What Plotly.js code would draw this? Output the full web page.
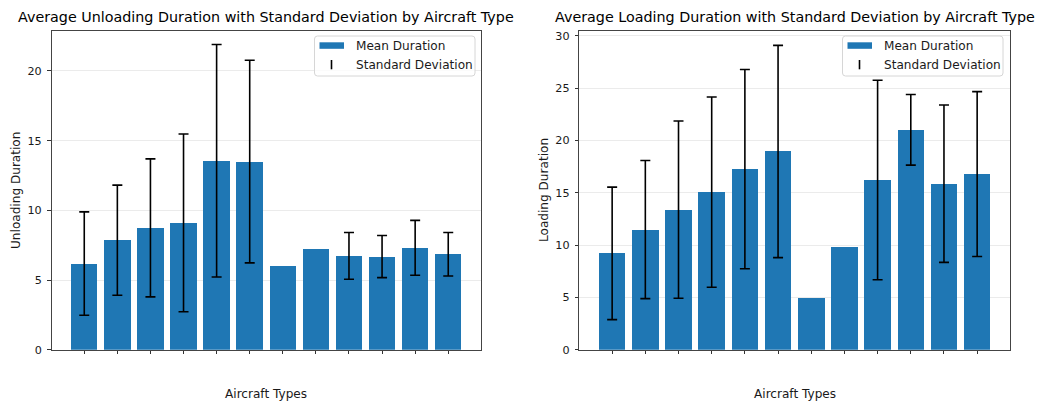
<!DOCTYPE html>
<html>
<head>
<meta charset="utf-8">
<script src="https://cdn.plot.ly/plotly-3.0.1.min.js"></script>
<style>
  html, body { margin: 0; padding: 0; background: #fff; }
  #chart { width: 1037px; height: 401px; }
</style>
</head>
<body>
<div id="chart"></div>
<script>
// Aircraft type positions (labels are blank on the axis)
const typeIndex = [0, 1, 2, 3, 4, 5, 6, 7, 8, 9, 10, 11];
const typeLabels = ['', '', '', '', '', '', '', '', '', '', '', ''];

// Unloading duration: mean and standard deviation per aircraft type
const unloadMean = [6.18, 7.86, 8.74, 9.10, 13.56, 13.50, 5.99, 7.21, 6.73, 6.68, 7.31, 6.85];
const unloadStd  = [3.71, 3.95, 4.95, 6.38, 8.34, 7.27, null, null, 1.68, 1.51, 1.97, 1.56];

// Loading duration: mean and standard deviation per aircraft type
const loadMean = [9.20, 11.48, 13.38, 15.06, 17.26, 18.94, 4.96, 9.82, 16.21, 21.01, 15.86, 16.78];
const loadStd  = [6.33, 6.60, 8.47, 9.09, 9.52, 10.14, null, null, 9.53, 3.37, 7.52, 7.88];

// Legend entries
const legendNames = ['Mean Duration', 'Standard Deviation'];

const BLUE = '#1f77b4';
const FONT = 'DejaVu Sans, sans-serif';
const TXT = '#1a1a1a';

const W = 1037, H = 401;
const px = v => v / W;
const py = v => 1 - v / H;

function barTrace(means, xa, ya) {
  return {
    type: 'bar', x: typeIndex, y: means, width: 0.8,
    name: legendNames[0], xaxis: xa, yaxis: ya, showlegend: false,
    marker: { color: BLUE, line: { width: 0 } }
  };
}

function errTrace(means, stds, xa, ya) {
  // points without a deviation get no error bar
  const yv = means.map((m, i) => (stds[i] == null ? null : m));
  const ev = stds.map(s => (s == null ? 0 : s));
  return {
    type: 'scatter', mode: 'markers', x: typeIndex, y: yv,
    name: legendNames[1], xaxis: xa, yaxis: ya, showlegend: false,
    marker: { size: 1, color: 'rgba(0,0,0,0)' },
    error_y: { type: 'data', array: ev, visible: true, color: '#000', thickness: 1.6, width: 5 },
    cliponaxis: false
  };
}

const data = [
  barTrace(unloadMean, 'x', 'y'),
  errTrace(unloadMean, unloadStd, 'x', 'y'),
  barTrace(loadMean, 'x2', 'y2'),
  errTrace(loadMean, loadStd, 'x2', 'y2')
];

const tickFont = { family: FONT, size: 11.2, color: TXT };

function xAxis(domain, anchor) {
  return {
    domain: domain, anchor: anchor, range: [-0.99, 11.99],
    tickmode: 'array', tickvals: typeIndex, ticktext: typeLabels,
    ticks: 'outside', ticklen: 3.5, tickwidth: 1, tickcolor: '#333',
    showline: true, mirror: true, linecolor: '#444', linewidth: 1,
    showgrid: false, zeroline: false, fixedrange: true
  };
}
function yAxis(domain, anchor, top) {
  return {
    domain: domain, anchor: anchor, range: [0, top], dtick: 5,
    ticks: 'outside', ticklen: 3.5, tickwidth: 1, tickcolor: '#333',
    tickfont: tickFont, ticklabelstandoff: 3,
    showline: true, mirror: true, linecolor: '#444', linewidth: 1,
    showgrid: true, gridcolor: '#ebebeb', gridwidth: 1, zeroline: false, fixedrange: true
  };
}

const yDom = [py(349.7), py(30.5)];

// Legend box with a bar patch and an error-bar glyph, drawn at pixel offset dx
function legendShapes(dx) {
  const x0 = 314.5 + dx, x1 = 475 + dx, y0 = 36, y1 = 76, r = 3;
  const boxPath = [
    'M', px(x0 + r), py(y0),
    'L', px(x1 - r), py(y0), 'Q', px(x1), py(y0), px(x1), py(y0 + r),
    'L', px(x1), py(y1 - r), 'Q', px(x1), py(y1), px(x1 - r), py(y1),
    'L', px(x0 + r), py(y1), 'Q', px(x0), py(y1), px(x0), py(y1 - r),
    'L', px(x0), py(y0 + r), 'Q', px(x0), py(y0), px(x0 + r), py(y0), 'Z'
  ].join(' ');
  return [
    { type: 'path', xref: 'paper', yref: 'paper', path: boxPath, layer: 'above',
      fillcolor: 'rgba(255,255,255,0.8)', line: { color: '#d6d6d6', width: 1 } },
    { type: 'rect', xref: 'paper', yref: 'paper', layer: 'above',
      x0: px(319.5 + dx), x1: px(344 + dx), y0: py(48.8), y1: py(42.3),
      fillcolor: BLUE, line: { width: 0 } },
    { type: 'line', xref: 'paper', yref: 'paper', layer: 'above',
      x0: px(331.5 + dx), x1: px(331.5 + dx), y0: py(60), y1: py(69.3),
      line: { color: '#000', width: 1.6 } }
  ];
}
function legendTexts(dx) {
  return legendNames.map((name, i) => ({
    text: name, xref: 'paper', yref: 'paper', x: px(353.5 + dx), y: py(46.5 + 18 * i),
    xanchor: 'left', yanchor: 'middle', showarrow: false,
    font: { family: FONT, size: 12.1, color: TXT }
  }));
}

function label(text, x, y, size, angle, color) {
  return { text: text, xref: 'paper', yref: 'paper', x: px(x), y: py(y),
    xanchor: 'center', yanchor: 'middle', showarrow: false, textangle: angle || 0,
    font: { family: FONT, size: size, color: color || TXT } };
}

const layout = {
  width: W, height: H,
  margin: { l: 0, r: 0, t: 0, b: 0 },
  paper_bgcolor: '#fff', plot_bgcolor: '#fff',
  font: { family: FONT, size: 12, color: TXT },
  showlegend: false,
  bargap: 0,
  xaxis: xAxis([px(51.5), px(481)], 'y'),
  yaxis: yAxis(yDom, 'x', 22.9),
  xaxis2: xAxis([px(579.3), px(1010)], 'y2'),
  yaxis2: yAxis(yDom, 'x2', 30.5),
  shapes: legendShapes(0).concat(legendShapes(528)),
  annotations: [
    label('Average Unloading Duration with Standard Deviation by Aircraft Type', 266.2, 17, 14.3, 0, '#000'),
    label('Average Loading Duration with Standard Deviation by Aircraft Type', 794.7, 17, 14.3, 0, '#000'),
    label('Aircraft Types', 266.2, 393.5, 12.1),
    label('Aircraft Types', 794.7, 393.5, 12.1),
    label('Unloading Duration', 15.5, 190.5, 12.1, -90),
    label('Loading Duration', 543.5, 190.5, 12.1, -90)
  ].concat(legendTexts(0), legendTexts(528))
};

Plotly.newPlot('chart', data, layout, { displayModeBar: false, staticPlot: true });
</script>
</body>
</html>
